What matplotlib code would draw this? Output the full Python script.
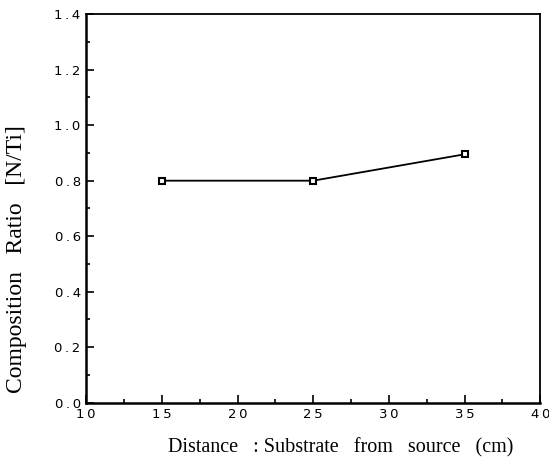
import matplotlib
matplotlib.use('Agg')
from matplotlib import pyplot as plt
from matplotlib.ticker import MultipleLocator

distance = [15, 25, 35]                 # cm
ratio = [0.80, 0.80, 0.895]             # N/Ti
xticks = [10, 15, 20, 25, 30, 35, 40]
yticks = [0.0, 0.2, 0.4, 0.6, 0.8, 1.0, 1.2, 1.4]

def spaced(s):
    # 元の図は数字の字間が広い
    return '\u2009'.join(s)

fig = plt.figure(figsize=(5.49, 4.70), dpi=100)
ax = fig.add_axes([0.157, 0.143, 0.827, 0.827])

ax.plot(distance, ratio, color='black', lw=1.3, marker='s', ms=5,
        mfc='white', mec='black', mew=1.5)

ax.set_xlim(10, 40)
ax.set_ylim(0, 1.4)
ax.set_xticks(xticks)
ax.set_yticks(yticks)
ax.set_xticklabels([spaced(str(v)) for v in xticks])
ax.set_yticklabels([spaced('%.1f' % v) for v in yticks])
ax.xaxis.set_minor_locator(MultipleLocator(2.5))
ax.yaxis.set_minor_locator(MultipleLocator(0.1))
ax.tick_params(which='both', direction='in', top=False, right=False,
               labelsize=9.5, width=1.2)
ax.tick_params(which='major', length=6, pad=4)
ax.tick_params(which='minor', length=3)
for s in ax.spines.values():
    s.set_linewidth(1.3)
ax.spines['left'].set_linewidth(1.8)
ax.spines['bottom'].set_linewidth(1.8)

ax.set_xlabel('Distance   : Substrate   from   source   (cm)',
              family='Liberation Serif', fontsize=14.5)
ax.xaxis.set_label_coords(0.56, -0.09)
ax.set_ylabel('Composition   Ratio   [N/Ti]',
              family='Liberation Serif', fontsize=17)
ax.yaxis.set_label_coords(-0.13, 0.37)

fig.savefig('out.png', dpi=100)
plt.close()
